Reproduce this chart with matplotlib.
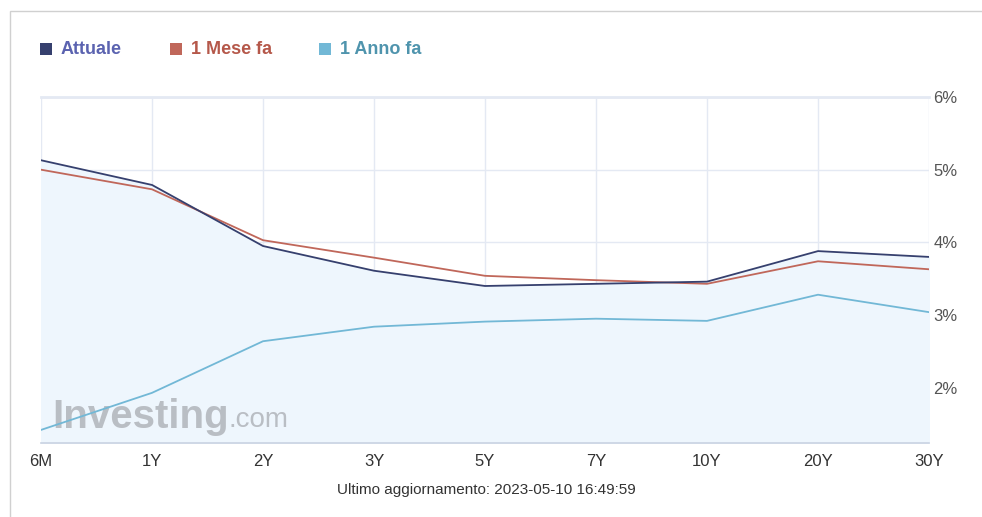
import matplotlib.pyplot as plt
from matplotlib.patches import Rectangle

plt.rcParams["font.family"] = ["Liberation Sans", "DejaVu Sans"]

## DATA

scadenze = ["6M", "1Y", "2Y", "3Y", "5Y", "7Y", "10Y", "20Y", "30Y"]
attuale = [5.13, 4.79, 3.95, 3.61, 3.40, 3.43, 3.46, 3.88, 3.80]
meseFa = [5.00, 4.73, 4.03, 3.79, 3.54, 3.48, 3.43, 3.74, 3.63]
annoFa = [1.42, 1.93, 2.64, 2.84, 2.91, 2.95, 2.92, 3.28, 3.04]
yTicks = [2, 3, 4, 5, 6]
yTickLabels = ["2%", "3%", "4%", "5%", "6%"]
serieNomi = ["Attuale", "1 Mese fa", "1 Anno fa"]

## STYLE

W, H = 982, 517
colLine = ["#36406e", "#c0675a", "#72b8d6"]
colText = ["#5b63b0", "#b5584a", "#4f94ad"]
gridCol = "#e4e9f3"

fig = plt.figure(figsize=(W / 100, H / 100), dpi=100)
fig.patch.set_facecolor("white")

# outer widget frame
fig.add_artist(Rectangle((10 / W, -0.1), 1.2, (H - 11) / H + 0.1, transform=fig.transFigure,
                         fill=False, edgecolor="#d0d0d0", linewidth=1))

ax = fig.add_axes([41 / W, (H - 443) / H, 888 / W, 346 / H])
x = list(range(len(scadenze)))
ymin = 1.24

ax.fill_between(x, attuale, ymin, color="#eef6fd", zorder=1)
ax.plot(x, annoFa, color=colLine[2], linewidth=1.3, zorder=3)
ax.plot(x, meseFa, color=colLine[1], linewidth=1.3, zorder=4)
ax.plot(x, attuale, color=colLine[0], linewidth=1.3, zorder=5)

ax.set_xlim(0, len(scadenze) - 1)
ax.set_ylim(ymin, 6)
ax.set_xticks(x)
ax.set_xticklabels(scadenze, fontsize=12, color="#333333")
ax.set_yticks(yTicks)
ax.set_yticklabels(yTickLabels, fontsize=12, color="#555555")
ax.yaxis.tick_right()
ax.tick_params(axis="both", length=0)
ax.tick_params(axis="x", pad=8)
ax.tick_params(axis="y", pad=3)
ax.grid(True, color=gridCol, linewidth=1, zorder=0)
ax.set_axisbelow(True)
for side in ["left", "right"]:
    ax.spines[side].set_visible(False)
ax.spines["top"].set_color(gridCol)
ax.spines["top"].set_linewidth(2)
ax.spines["bottom"].set_color("#c9d3e2")
ax.spines["bottom"].set_linewidth(1.2)
ax.set_facecolor("white")

# watermark
ax.text(1.69, 1.60, "Investing", fontsize=29, fontweight="bold", color="#b4b8be",
        alpha=0.9, va="center", ha="right", zorder=2)
ax.text(1.69, 1.56, ".com", fontsize=20, color="#b4b8be", alpha=0.9,
        va="center", ha="left", zorder=2)

## LEGEND

legendX = [40, 170, 319]
for nome, xs, cl, ct in zip(serieNomi, legendX, colLine, colText):
    fig.add_artist(Rectangle((xs / W, (H - 55) / H), 12 / W, 12 / H, transform=fig.transFigure,
                             facecolor=cl, edgecolor="none"))
    fig.text((xs + 21) / W, (H - 49) / H, nome, fontsize=13, fontweight="bold",
             color=ct, va="center", ha="left")

fig.text(486 / W, (H - 490) / H, "Ultimo aggiornamento: 2023-05-10 16:49:59",
         fontsize=11, color="#333333", ha="center", va="center")

plt.savefig("out.png", dpi=100)
